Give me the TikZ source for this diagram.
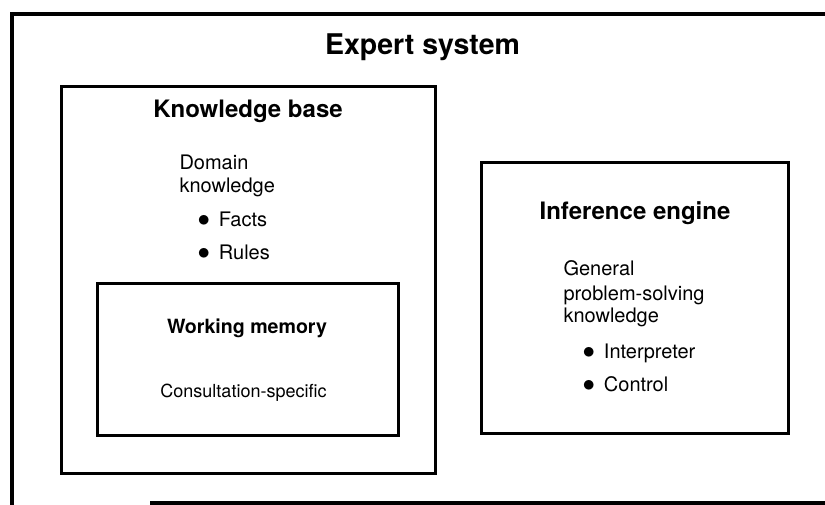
\documentclass[tikz,border=0pt]{standalone}
\usepackage{fontspec}
\setmainfont{TeX Gyre Heros}

\newcommand{\dotitem}[1]{\scalebox{1.2}{$\bullet$}\hspace{9pt}#1}

\begin{document}
\begin{tikzpicture}[x=1pt, y=-1pt, line width=3pt, box/.style = {draw, rectangle, inner sep=0pt},
		head/.style={anchor=base, inner sep=0pt, font=\bfseries\fontsize{24}{28}\selectfont},
		item/.style={anchor=base west, inner sep=0pt, font=\fontsize{20}{24}\selectfont}] 
		
		\useasboundingbox (0,0) rectangle (825,505);
		
		\coordinate (ftl) at (12,14);
		\coordinate (fbl) at (12,505);
		\coordinate (ftr) at (825,14);
		\coordinate (fbs) at (150,503);
		\coordinate (fbr) at (825,503);
		
		\draw[-, line width=3.5pt] (fbl) to (ftl) to (ftr);
		\draw[-, line width=3.5pt] (fbs) to (fbr);
		
		\node[head, font=\bfseries\fontsize{28.5}{32}\selectfont] (title) at (422.5,55) {Expert system};
		
		\node[box, minimum width=374pt, minimum height=386pt] (kb) at (248,280) {};
		\node[box, minimum width=301pt, minimum height=151pt] (wm) at (247.5,359.5) {};
		\node[box, minimum width=307pt, minimum height=270pt] (ie) at (634.5,298) {};
		
		\node[head] (kbt) at (248,118) {Knowledge base};
		\node[item] (kb1) at (178,170) {Domain};
		\node[item] (kb2) at (178,193) {knowledge};
		\node[item] (kb3) at (196,227) {\dotitem{Facts}};
		\node[item] (kb4) at (196,260) {\dotitem{Rules}};
		
		\node[head, font=\bfseries\fontsize{19.6}{23}\selectfont] (wmt) at (247,333) {Working memory};
		\node[head, font=\fontsize{18}{22}\selectfont] (wm1) at (243.5,397) {Consultation-specific};
		
		\node[head] (iet) at (635,220) {Inference engine};
		\node[item] (ie1) at (562,276) {General};
		\node[item] (ie2) at (562,300) {problem-solving};
		\node[item] (ie3) at (562,322) {knowledge};
		\node[item] (ie4) at (581,358) {\dotitem{Interpreter}};
		\node[item] (ie5) at (581,391) {\dotitem{Control}};
		
	\end{tikzpicture}
\end{document}
